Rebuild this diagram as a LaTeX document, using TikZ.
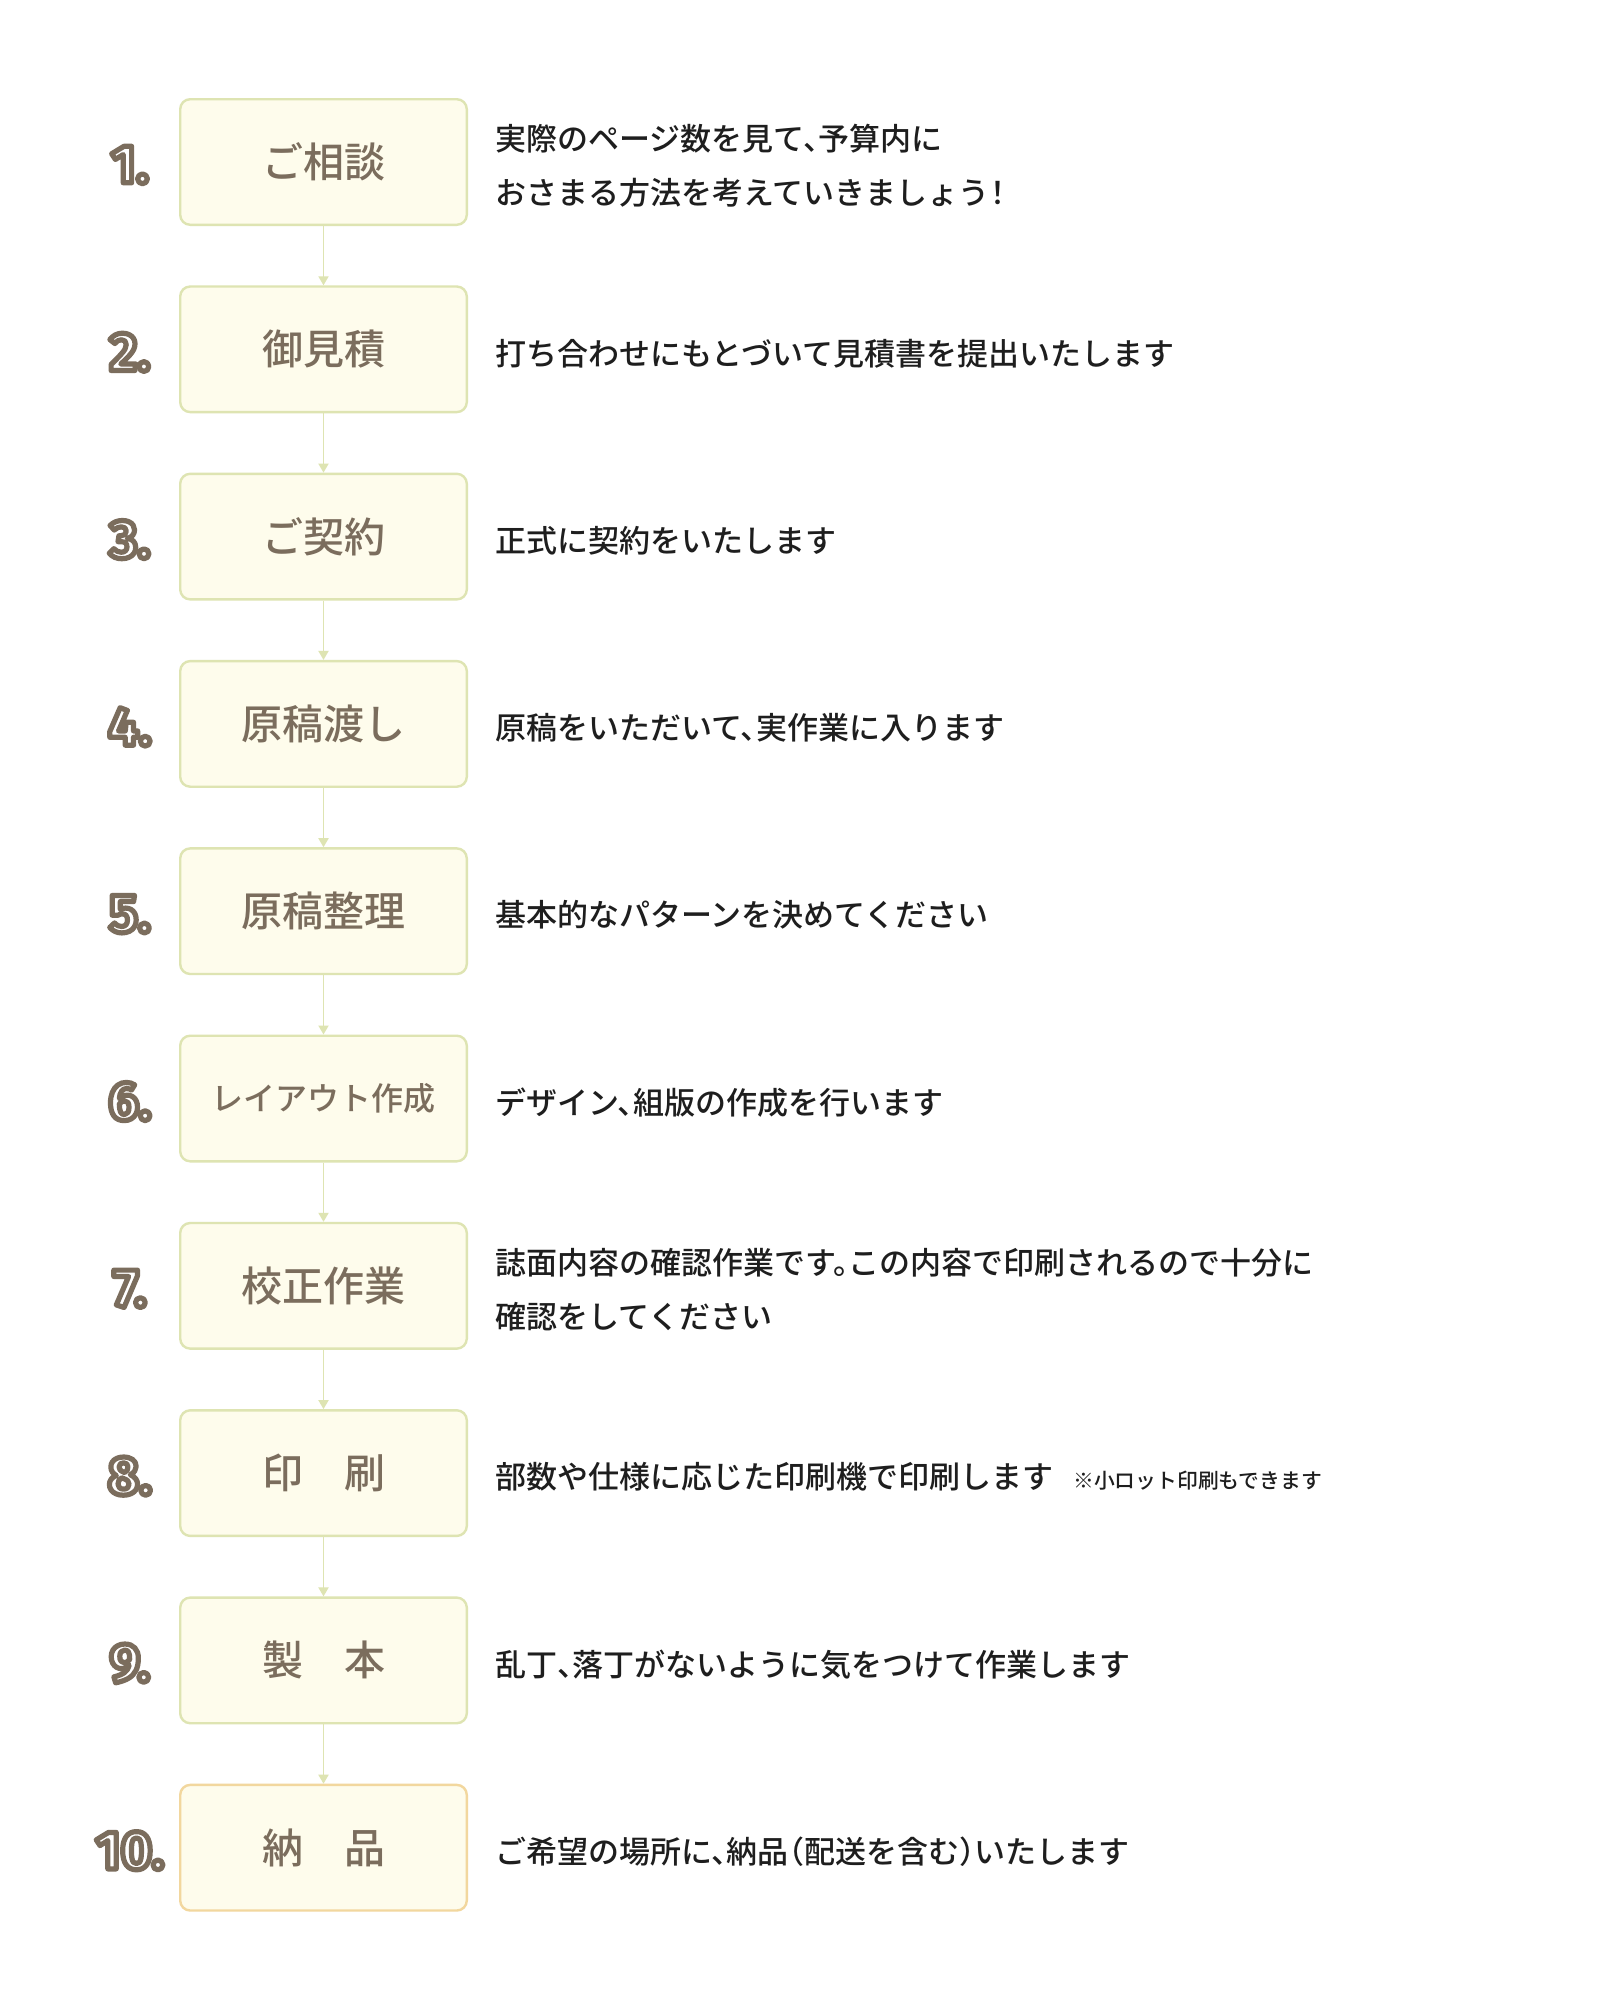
\documentclass[tikz,border=0pt]{standalone}
\usepackage{fontspec}
\usetikzlibrary{positioning,arrows.meta}
\newfontfamily\jp{Noto Sans CJK JP Medium}[RawFeature=+halt]
\newfontfamily\jplabel{Noto Sans CJK JP Medium}
\newfontfamily\numfont{Fira Sans}
\definecolor{labelbrown}{HTML}{7B6D5D}
\definecolor{boxfill}{HTML}{FEFCEC}
\definecolor{boxline}{HTML}{DEE4B2}
\definecolor{lastline}{HTML}{F2D79E}
\definecolor{desctext}{HTML}{1E1E1E}
% hollow digits: white fill, brown stroke
\newcommand\hollownum[1]{\special{pdf:literal direct 2 Tr 2.6 w 1 j 0.482 0.427 0.365 RG}#1\special{pdf:literal direct 0 Tr}}

\begin{document}
\begin{tikzpicture}[node distance={93.65pt},
    stage/.style = {draw=boxline, line width=1.2pt, fill=boxfill, rounded corners=5pt,
        minimum width=143.3pt, minimum height=62.8pt, text=labelbrown,
        font=\jplabel\fontsize{20.5}{24}\selectfont},
    num/.style = {text=white, yshift=-1.5pt, font=\numfont\bfseries\fontsize{27}{30}\selectfont},
    desc/.style = {text=desctext, align=left, inner sep=0pt, yshift=-2pt, font=\jp\fontsize{15.5}{27}\selectfont},
    note/.style = {text=desctext, inner sep=0pt, font=\jp\fontsize{10.4}{12}\selectfont},
    flow/.style = {draw=boxline, line width=0.9pt, -{Triangle[width=5pt,length=4.5pt]}}]

    \useasboundingbox[fill=white] (0,0) rectangle (811.5pt,-1002pt);

    % steps
    \node[stage] (s1) at (161.75pt,-81pt) {ご相談};
    \node[stage] (s2) [below of=s1] {御見積};
    \node[stage] (s3) [below of=s2] {ご契約};
    \node[stage] (s4) [below of=s3] {原稿渡し};
    \node[stage] (s5) [below of=s4] {原稿整理};
    \node[stage, font=\jplabel\fontsize{16}{20}\selectfont] (s6) [below of=s5] {レイアウト作成};
    \node[stage] (s7) [below of=s6] {校正作業};
    \node[stage] (s8) [below of=s7] {印　刷};
    \node[stage] (s9) [below of=s8] {製　本};
    \node[stage, draw=lastline] (s10) [below of=s9] {納　品};

    % numbers
    \foreach \i in {1,...,10}
        \node[num] (n\i) [left of=s\i, node distance=96.75pt] {\hollownum{\i.}};

    % texts
    \node[desc] (d1) [right=13.5pt of s1] {実際のページ数を見て、予算内に\\おさまる方法を考えていきましょう！};
    \node[desc] (d2) [right=13.5pt of s2] {打ち合わせにもとづいて見積書を提出いたします};
    \node[desc] (d3) [right=13.5pt of s3] {正式に契約をいたします};
    \node[desc] (d4) [right=13.5pt of s4] {原稿をいただいて、実作業に入ります};
    \node[desc] (d5) [right=13.5pt of s5] {基本的なパターンを決めてください};
    \node[desc] (d6) [right=13.5pt of s6] {デザイン、組版の作成を行います};
    \node[desc] (d7) [right=13.5pt of s7] {誌面内容の確認作業です。この内容で印刷されるので十分に\\確認をしてください};
    \node[desc] (d8) [right=13.5pt of s8] {部数や仕様に応じた印刷機で印刷します};
    \node[note, anchor=base west] (m8) at ([xshift=9.5pt]d8.base east) {※小ロット印刷もできます};
    \node[desc] (d9) [right=13.5pt of s9] {乱丁、落丁がないように気をつけて作業します};
    \node[desc] (d10) [right=13.5pt of s10] {ご希望の場所に、納品（配送を含む）いたします};

    % arrows
    \foreach \i [evaluate=\i as \j using int(\i+1)] in {1,...,9}
        \draw[flow] (s\i) -- (s\j);

\end{tikzpicture}
\end{document}
